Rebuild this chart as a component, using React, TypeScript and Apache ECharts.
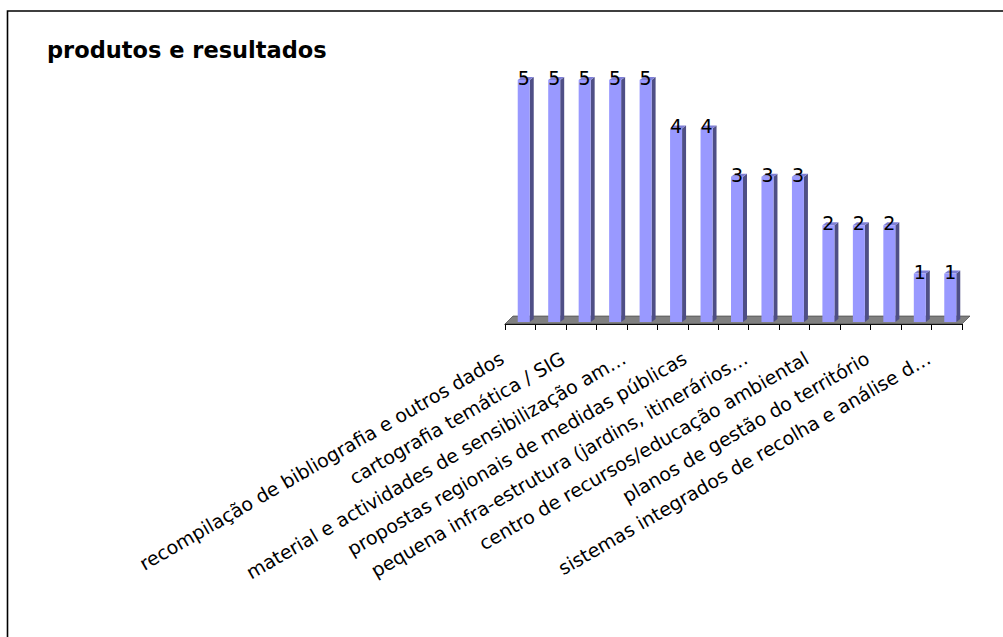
import React, { useEffect, useRef } from "react";
import * as echarts from "echarts";

const titleText = "produtos e resultados";
const categories = [
  "recompilação de bibliografia e outros dados",
  "",
  "cartografia temática / SIG",
  "",
  "material e actividades de sensibilização am…",
  "",
  "propostas regionais de medidas públicas",
  "",
  "pequena infra-estrutura (jardins, itinerários…",
  "",
  "centro de recursos/educação ambiental",
  "",
  "planos de gestão do território",
  "",
  "sistemas integrados de recolha e análise d…",
];
const values = [5, 5, 5, 5, 5, 4, 4, 3, 3, 3, 2, 2, 2, 1, 1];

const FONT = "DejaVu Sans, Verdana, sans-serif";

export default function App() {
  const ref = useRef<HTMLDivElement>(null);
  useEffect(() => {
    document.body.style.margin = "0";
    const chart = echarts.init(ref.current!, null, { renderer: "svg" });
    chart.setOption({
      animation: false,
      backgroundColor: "#ffffff",
      title: {
        text: titleText,
        left: 42,
        top: 33,
        textStyle: { fontFamily: FONT, fontSize: 22.5, fontWeight: "bold", color: "#000" },
      },
      graphic: [
        {
          type: "rect",
          shape: { x: 7.5, y: 11, width: 1200, height: 1000 },
          style: { fill: "none", stroke: "#000", lineWidth: 1.6 },
          silent: true,
        },
      ],
      grid: { left: 505, right: 41, top: 82, bottom: 313 },
      xAxis: {
        type: "category",
        data: categories,
        boundaryGap: true,
        axisLine: { show: true, lineStyle: { color: "#000", width: 1 } },
        axisTick: { show: true, interval: 0, length: 6, lineStyle: { color: "#000" } },
        axisLabel: {
          interval: 1,
          rotate: 30,
          fontFamily: FONT,
          fontSize: 19,
          color: "#000",
          margin: 22,
          padding: [0, 21, 0, 0],
        },
        splitLine: { show: false },
      },
      yAxis: {
        type: "value",
        min: 0,
        max: 5,
        show: false,
        splitLine: { show: false },
      },
      series: [
        {
          type: "custom",
          z: 1,
          data: [[0, 0]],
          renderItem: (params: any, api: any) => {
            const cs = params.coordSys;
            const yb = cs.y + cs.height;
            const d = 8;
            return {
              type: "polygon",
              shape: {
                points: [
                  [cs.x, yb],
                  [cs.x + d, yb - d],
                  [cs.x + cs.width + d, yb - d],
                  [cs.x + cs.width, yb],
                ],
              },
              style: { fill: "#808080", stroke: "#333", lineWidth: 0.6 },
            };
          },
        },
        {
          type: "custom",
          z: 2,
          data: values.map((v, i) => [i, v]),
          renderItem: (params: any, api: any) => {
            const idx = api.value(0);
            const v = api.value(1);
            const p = api.coord([idx, v]);
            const p0 = api.coord([idx, 0]);
            const w = 12;
            const d = 4;
            const dy = 3;
            const left = p[0] - 2.5;
            const top = p[1] - 2;
            const base = p0[1] - 2;
            return {
              type: "group",
              children: [
                {
                  type: "polygon",
                  shape: {
                    points: [
                      [left + w, top],
                      [left + w + d, top - dy],
                      [left + w + d, base - dy],
                      [left + w, base],
                    ],
                  },
                  style: { fill: "#4f4f86" },
                },
                {
                  type: "polygon",
                  shape: {
                    points: [
                      [left, top],
                      [left + d, top - dy],
                      [left + w + d, top - dy],
                      [left + w, top],
                    ],
                  },
                  style: { fill: "#7f7fd6" },
                },
                {
                  type: "rect",
                  shape: { x: left, y: top, width: w, height: base - top },
                  style: { fill: "#9999ff" },
                },
                {
                  type: "text",
                  style: {
                    x: left + w / 2,
                    y: top - 2,
                    text: String(v),
                    align: "center",
                    verticalAlign: "middle",
                    font: "19px " + FONT,
                    fill: "#000",
                  },
                },
              ],
            };
          },
        },
      ],
    });
    return () => chart.dispose();
  }, []);
  return (
    <div
      ref={ref}
      style={{ position: "fixed", left: 0, top: 0, width: 1003, height: 637 }}
    />
  );
}
